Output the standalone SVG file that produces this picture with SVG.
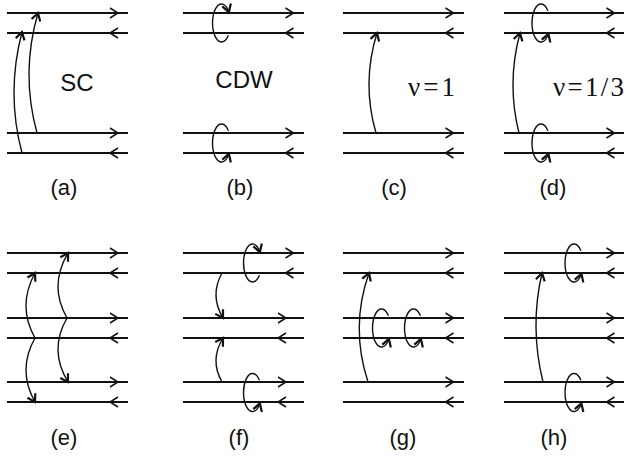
<svg xmlns="http://www.w3.org/2000/svg" xmlns:xlink="http://www.w3.org/1999/xlink" width="629" height="458" viewBox="0 0 629 458">
<style>
.ln{stroke:#111;stroke-width:1.8;fill:none}
.ch{stroke:#111;stroke-width:1.5;fill:none;stroke-linejoin:miter}
.cv{stroke:#111;stroke-width:1.4;fill:none;marker-end:url(#ah)}
.lp{stroke:#111;stroke-width:1.4;fill:none;marker-end:url(#ah)}
.lbl{font-family:"Liberation Sans",Arial,sans-serif;font-size:22px;fill:#111;text-anchor:middle}
.big{font-family:"Liberation Sans",Arial,sans-serif;font-size:24px;fill:#111;text-anchor:middle}
.mth{font-family:"Liberation Serif","Times New Roman",serif;font-size:27px;fill:#111}
</style>
<defs>
<marker id="ah" markerUnits="userSpaceOnUse" markerWidth="14" markerHeight="14" viewBox="-10 -7 14 14" refX="0" refY="0" orient="auto">
<path d="M-7.5,-4.5 L0,0 L-7.5,4.5" fill="none" stroke="#111" stroke-width="2.2"/>
</marker>
<path id="fw" class="ch" d="M-4,-5 L4,0 L-4,5"/>
<path id="bw" class="ch" d="M4,-5 L-4,0 L4,5"/>
</defs>

<g id="panel-a">
<g class="wires"><path class="ln" d="M7,13H128M7,33H128M7,133H128M7,153H128"/>
<use xlink:href="#fw" x="114" y="13"/><use xlink:href="#bw" x="114" y="33"/><use xlink:href="#fw" x="114" y="133"/><use xlink:href="#bw" x="114" y="153"/></g>
<g class="connectors"><path class="cv" d="M22,153 Q6,93 22,32"/><path class="cv" d="M37,133 Q20.5,73 38,13"/></g>
<text class="big" x="77" y="91">SC</text>
<text class="lbl" x="64" y="195">(a)</text>
</g>

<g id="panel-b">
<g class="wires"><path class="ln" d="M183,13H304M183,33H304M183,133H304M183,153H304"/>
<use xlink:href="#fw" x="289.5" y="13"/><use xlink:href="#bw" x="289.5" y="33"/><use xlink:href="#fw" x="289.5" y="133"/><use xlink:href="#bw" x="289.5" y="153"/></g>
<g class="connectors">
<path class="lp" d="M228.4,35.2 A9 19 0 1 1 228.9,12.1"/>
<path class="lp" d="M228.4,130.8 A9 19 0 1 0 228.9,153.9"/>
</g>
<text class="big" x="244" y="88">CDW</text>
<text class="lbl" x="240" y="195">(b)</text>
</g>

<g id="panel-c">
<g class="wires"><path class="ln" d="M343,13H464M343,33H464M343,133H464M343,153H464"/>
<use xlink:href="#fw" x="449.5" y="13"/><use xlink:href="#bw" x="449.5" y="33"/><use xlink:href="#fw" x="449.5" y="133"/><use xlink:href="#bw" x="449.5" y="153"/></g>
<g class="connectors"><path class="cv" d="M376,133 Q361.5,83 377,33"/></g>
<text class="mth" x="408" y="96" textLength="47" lengthAdjust="spacing">ν=1</text>
<text class="lbl" x="394" y="195">(c)</text>
</g>

<g id="panel-d">
<g class="wires"><path class="ln" d="M504,13H624M504,33H624M504,133H624M504,153H624"/>
<use xlink:href="#fw" x="610.5" y="13"/><use xlink:href="#bw" x="610.5" y="33"/><use xlink:href="#fw" x="610.5" y="133"/><use xlink:href="#bw" x="610.5" y="153"/></g>
<g class="connectors">
<path class="cv" d="M519,133 Q506.5,83 520,33"/>
<path class="lp" d="M547.9,10.8 A9 19 0 1 0 548.4,33.9"/>
<path class="lp" d="M547.9,130.8 A9 19 0 1 0 548.4,153.9"/>
</g>
<text class="mth" x="553" y="96" textLength="71" lengthAdjust="spacing">ν=1/3</text>
<text class="lbl" x="553" y="195">(d)</text>
</g>

<g id="panel-e">
<g class="wires"><path class="ln" d="M7,253H128M7,273H128M7,318H128M7,338H128M7,382H128M7,402H128"/>
<use xlink:href="#fw" x="114" y="253"/><use xlink:href="#bw" x="114" y="273"/><use xlink:href="#fw" x="114" y="318"/><use xlink:href="#bw" x="114" y="338"/><use xlink:href="#fw" x="114" y="382"/><use xlink:href="#bw" x="114" y="402"/></g>
<g class="connectors">
<path class="cv" d="M35,338 Q17,306 35,273"/>
<path class="cv" d="M35,338 Q17,370 35,402"/>
<path class="cv" d="M67,318 Q48.5,286 68,253"/>
<path class="cv" d="M67,318 Q48.5,350 68,382"/>
</g>
<text class="lbl" x="64" y="445">(e)</text>
</g>

<g id="panel-f">
<g class="wires"><path class="ln" d="M183,253H304M183,273H304M183,318H304M183,338H304M183,382H304M183,402H304"/>
<use xlink:href="#fw" x="289.5" y="253"/><use xlink:href="#bw" x="289.5" y="273"/><use xlink:href="#fw" x="282" y="318"/><use xlink:href="#bw" x="282" y="338"/><use xlink:href="#fw" x="282" y="382"/><use xlink:href="#bw" x="282" y="402"/></g>
<g class="connectors">
<path class="cv" d="M222,273 Q209.5,295.5 223,318"/>
<path class="cv" d="M222,382 Q209.5,360 223,338"/>
<path class="lp" d="M259.4,275.2 A9 19 0 1 1 259.9,252.1"/>
<path class="lp" d="M259.4,380.3 A9 19 0 1 0 259.9,403.4"/>
</g>
<text class="lbl" x="239" y="445">(f)</text>
</g>

<g id="panel-g">
<g class="wires"><path class="ln" d="M343,253H464M343,273H464M343,318H464M343,338H464M343,382H464M343,402H464"/>
<use xlink:href="#fw" x="449.5" y="253"/><use xlink:href="#bw" x="449.5" y="273"/><use xlink:href="#fw" x="449.5" y="318"/><use xlink:href="#bw" x="449.5" y="338"/><use xlink:href="#fw" x="449.5" y="382"/><use xlink:href="#bw" x="449.5" y="402"/></g>
<g class="connectors">
<path class="cv" d="M368,382 Q350,327 369,273"/>
<path class="lp" d="M388.4,315.8 A9 19 0 1 0 388.9,338.9"/>
<path class="lp" d="M420.4,315.8 A9 19 0 1 0 420.9,338.9"/>
</g>
<text class="lbl" x="403" y="445">(g)</text>
</g>

<g id="panel-h">
<g class="wires"><path class="ln" d="M504,253H624M504,273H624M504,318H624M504,338H624M504,382H624M504,402H624"/>
<use xlink:href="#fw" x="610.5" y="253"/><use xlink:href="#bw" x="610.5" y="273"/><use xlink:href="#fw" x="610.5" y="318"/><use xlink:href="#bw" x="610.5" y="338"/><use xlink:href="#fw" x="610.5" y="382"/><use xlink:href="#bw" x="610.5" y="402"/></g>
<g class="connectors">
<path class="cv" d="M543,382 Q529.5,327 542,273"/>
<path class="lp" d="M580.9,250.8 A9 19 0 1 0 581.4,273.9"/>
<path class="lp" d="M580.9,380.3 A9 19 0 1 0 581.4,403.4"/>
</g>
<text class="lbl" x="554" y="445">(h)</text>
</g>
</svg>
